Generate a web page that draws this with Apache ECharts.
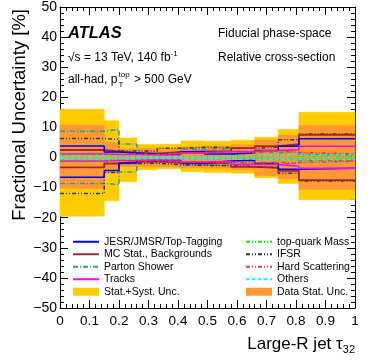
<!DOCTYPE html>
<html><head><meta charset="utf-8">
<script src="https://cdn.jsdelivr.net/npm/echarts@6/dist/echarts.min.js"></script>
<style>html,body{margin:0;padding:0;background:#fff}#c{width:374px;height:363px}</style>
</head><body><div id="c"></div>
<script>
// ---- data (11 bins in large-R jet tau32) ----
const binEdges = [0, 0.15, 0.2, 0.26, 0.33, 0.41, 0.49, 0.58, 0.66, 0.74, 0.81, 1.0];
const xTickLabels = ['0','0.1','0.2','0.3','0.4','0.5','0.6','0.7','0.8','0.9','1'];

const totalUp   = [16.0, 12.2, 6.5, 4.3, 4.4, 5.5, 5.4, 5.7, 6.7, 9.3, 15.0];
const totalDown = [-19.5, -14.4, -8.1, -4.1, -3.7, -4.7, -5.0, -5.2, -6.7, -8.6, -14.0];
const statUp    = [10.8, 5.0, 2.8, 3.0, 3.0, 3.5, 3.8, 4.2, 5.8, 7.4, 10.6];
const statDown  = [-10.2, -5.0, -3.0, -3.0, -3.0, -3.4, -3.6, -4.0, -6.0, -7.0, -10.6];

const jesUp     = [3.8, 1.8, 1.5, 1.1, 1.0, 1.9, 1.2, 1.5, 2.3, 3.7, 6.2];
const jesDown   = [-6.6, -4.3, -1.8, -1.0, -1.0, -1.8, -1.2, -0.9, -2.0, -3.9, -3.6];
const mcUp      = [2.5, 2.0, 1.5, 1.3, 1.9, 2.0, 2.1, 3.1, 3.8, 4.4, 7.5];
const mcDown    = [-3.3, -2.0, -1.5, -1.3, -1.8, -2.0, -1.8, -3.1, -3.4, -4.4, -7.5];
const psUp      = [8.7, 9.3, 4.5, 1.5, 1.2, 2.8, 2.8, 1.8, 1.5, 2.0, 1.0];
const psDown    = [-8.6, -9.0, -4.8, -1.5, -1.2, -2.5, -2.6, -1.8, -1.5, -2.0, -1.0];
const tracksUp  = [1.2, 1.0, 1.0, 0.8, 0.8, 1.5, 2.0, 2.1, 2.3, 2.6, 3.7];
const tracksDown= [-1.2, -1.0, -1.0, -0.8, -0.8, -1.5, -1.3, -2.3, -2.3, -2.9, -3.6];
const massUp    = [0.8, 0.5, 0.4, 0.3, 0.4, 0.5, 0.5, 0.4, 0.6, 0.5, 0.5];
const massDown  = [-0.8, -0.5, -0.4, -0.3, -0.4, -0.5, -0.5, -0.4, -0.6, -0.5, -0.5];
const ifsrUp    = [6.3, 6.0, 2.2, 2.1, 3.1, 3.4, 3.3, 3.0, 3.5, 5.9, 7.8];
const ifsrDown  = [-12.0, -5.0, -2.0, -1.9, -2.4, -2.6, -2.7, -3.0, -3.4, -5.2, -7.8];
const hardUp    = [1.0, 0.8, 1.2, 1.0, 1.5, 1.5, 1.8, 1.5, 2.2, 1.7, 1.2];
const hardDown  = [-1.0, -0.8, -1.2, -1.0, -1.5, -1.5, -1.8, -1.5, -2.2, -1.7, -1.2];
const othersUp  = [0.5, 0.4, 0.4, 0.3, 0.4, 0.4, 0.5, 0.5, 0.6, 0.7, 1.0];
const othersDown= [-0.5, -0.4, -0.4, -0.3, -0.4, -0.4, -0.5, -0.5, -0.6, -0.7, -0.6];

const names = {
  jes: 'JESR/JMSR/Top-Tagging', mc: 'MC Stat., Backgrounds', ps: 'Parton Shower', tracks: 'Tracks',
  total: 'Stat.+Syst. Unc.', mass: 'top-quark Mass', ifsr: 'IFSR', hard: 'Hard Scattering',
  others: 'Others', stat: 'Data Stat. Unc.'
};

// ---- helpers ----
const FONT = "'Liberation Sans', Arial, Helvetica, sans-serif";
function stepData(vals) {
  const d = vals.map((v, i) => [binEdges[i], v]);
  d.push([binEdges[binEdges.length - 1], vals[vals.length - 1]]);
  return d;
}
function bandSeries(name, lo, hi, color, z) {
  return {
    type: 'custom', name, z, silent: true, animation: false,
    itemStyle: { color },
    encode: { x: [0, 1], y: [2, 3] },
    data: lo.map((v, i) => [binEdges[i], binEdges[i + 1], v, hi[i]]),
    renderItem: (params, api) => {
      const a = api.coord([api.value(0), api.value(3)]);
      const b = api.coord([api.value(1), api.value(2)]);
      return { type: 'rect', shape: { x: a[0], y: a[1], width: b[0] - a[0], height: b[1] - a[1] },
               style: { fill: color, stroke: color, lineWidth: 0.6 } };
    }
  };
}
function lineSeries(name, vals, color, width, dash, z) {
  return { type: 'line', name, data: stepData(vals), step: 'end', symbol: 'none', showSymbol: false,
           lineStyle: { color, width, type: dash }, itemStyle: { color }, z, silent: true, animation: false };
}
function pair(name, up, down, color, width, dash, z) {
  return [lineSeries(name, up, color, width, dash, z), lineSeries(name, down, color, width, dash, z)];
}

const dd = [4, 2, 1, 2, 1, 2];
const series = [
  bandSeries(names.total, totalDown, totalUp, '#ffcc00', 1),
  bandSeries(names.stat, statDown, statUp, '#ff9933', 2),
  ...pair(names.ps, psUp, psDown, '#339999', 1.5, [5, 2, 1, 2], 3),
  ...pair(names.ifsr, ifsrUp, ifsrDown, '#333333', 1.5, dd, 3),
  ...pair(names.mc, mcUp, mcDown, '#a0282a', 1.8, 'solid', 4),
  ...pair(names.jes, jesUp, jesDown, '#0000ff', 1.5, 'solid', 5),
  ...pair(names.tracks, tracksUp, tracksDown, '#ff00ff', 1.5, 'solid', 5),
  ...pair(names.hard, hardUp, hardDown, '#ff3333', 1.5, dd, 6),
  ...pair(names.mass, massUp, massDown, '#00ee00', 1.5, dd, 6),
  ...pair(names.others, othersUp, othersDown, '#00ffff', 1.5, [3, 3], 6)
];

const grid = { left: 60, right: 19, top: 7, bottom: 55 };
const tick = { show: true, inside: true, length: 8, lineStyle: { color: '#000', width: 1 } };
const minor = { show: true, splitNumber: 5, length: 4, lineStyle: { color: '#000', width: 1 } };
const axLine = { show: true, onZero: false, lineStyle: { color: '#000', width: 1 } };

const legendCommon = {
  orient: 'vertical', top: 235.5, itemWidth: 26, itemHeight: 8, itemGap: 0, padding: 0,
  selectedMode: false,
  itemStyle: { opacity: 0 },
  textStyle: { fontFamily: FONT, fontSize: 10.5, color: '#000', lineHeight: 12.5 }
};
const lineItem = (n) => ({ name: n });
const rectItem = (n, c) => ({ name: n, icon: 'rect', itemStyle: { opacity: 1, color: c } });

const chart = echarts.init(document.getElementById('c'), null, { renderer: 'canvas' });
chart.setOption({
  animation: false,
  backgroundColor: '#fff',
  grid,
  xAxis: [
    { type: 'value', min: 0, max: 1, interval: 0.1, position: 'bottom',
      axisLine: axLine, axisTick: tick, minorTick: minor, splitLine: { show: false },
      axisLabel: { fontFamily: FONT, fontSize: 13.5, color: '#000', margin: 6,
                   formatter: (v) => xTickLabels[Math.round(v * 10)] } },
    { type: 'value', min: 0, max: 1, interval: 0.1, position: 'top',
      axisLine: axLine, axisTick: tick, minorTick: minor, splitLine: { show: false },
      axisLabel: { show: false } }
  ],
  yAxis: [
    { type: 'value', min: -50, max: 50, interval: 10, position: 'left',
      axisLine: axLine, axisTick: tick, minorTick: minor, splitLine: { show: false },
      axisLabel: { fontFamily: FONT, fontSize: 14, color: '#000', margin: 3,
                   formatter: (v) => v < 0 ? '\u2212' + (-v) : String(v) } },
    { type: 'value', min: -50, max: 50, interval: 10, position: 'right',
      axisLine: axLine, axisTick: tick, minorTick: minor, splitLine: { show: false },
      axisLabel: { show: false } }
  ],
  legend: [
    Object.assign({}, legendCommon, { left: 72,
      data: [lineItem(names.jes), lineItem(names.mc), lineItem(names.ps), lineItem(names.tracks),
             rectItem(names.total, '#ffcc00')] }),
    Object.assign({}, legendCommon, { left: 245,
      data: [lineItem(names.mass), lineItem(names.ifsr), lineItem(names.hard), lineItem(names.others),
             rectItem(names.stat, '#ff9933')] })
  ],
  series,
  graphic: [
    { type: 'text', x: 20, y: 9, rotation: Math.PI / 2, z: 100,
      style: { text: 'Fractional Uncertainty [%]', font: '18.5px ' + FONT, fill: '#000',
               align: 'right', verticalAlign: 'middle' } },
    { type: 'text', x: 355, y: 344, z: 100,
      style: { text: 'Large-R jet \u03c4{sub|32}', font: '17px ' + FONT, fill: '#000',
               align: 'right', verticalAlign: 'middle', lineHeight: 22,
               rich: { sub: { fontSize: 11, fontFamily: FONT, verticalAlign: 'bottom', lineHeight: 16 } } } },
    { type: 'text', x: 68, y: 33, z: 100,
      style: { text: 'ATLAS', font: 'italic bold 16.5px ' + FONT, fill: '#000', verticalAlign: 'middle' } },
    { type: 'text', x: 68, y: 58, z: 100,
      style: { text: '\u221as = 13 TeV, 140 fb{sup|-1}', font: '12px ' + FONT, fill: '#000',
               verticalAlign: 'middle', lineHeight: 16,
               rich: { sup: { fontSize: 8, fontFamily: FONT, verticalAlign: 'top', lineHeight: 10 } } } },
    { type: 'text', x: 68, y: 80, z: 100,
      style: { text: 'all-had, p', font: '12px ' + FONT, fill: '#000', verticalAlign: 'middle' } },
    { type: 'text', x: 118.5, y: 75, z: 100,
      style: { text: 'top', font: '8px ' + FONT, fill: '#000', verticalAlign: 'middle' } },
    { type: 'text', x: 118.5, y: 85, z: 100,
      style: { text: 'T', font: '8px ' + FONT, fill: '#000', verticalAlign: 'middle' } },
    { type: 'text', x: 134, y: 80, z: 100,
      style: { text: '> 500 GeV', font: '12px ' + FONT, fill: '#000', verticalAlign: 'middle' } },
    { type: 'text', x: 218, y: 34, z: 100,
      style: { text: 'Fiducial phase-space', font: '12px ' + FONT, fill: '#000', verticalAlign: 'middle' } },
    { type: 'text', x: 218, y: 58, z: 100,
      style: { text: 'Relative cross-section', font: '12px ' + FONT, fill: '#000', verticalAlign: 'middle' } }
  ]
});
</script>
</body></html>
